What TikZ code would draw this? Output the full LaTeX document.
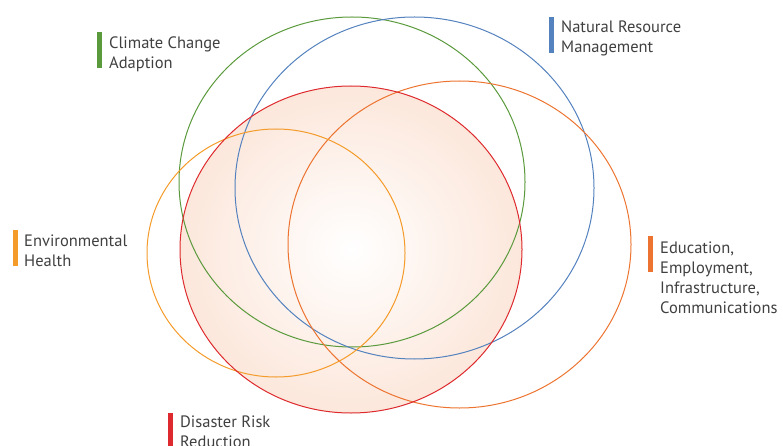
\documentclass[tikz,border=0pt]{standalone}
\usepackage{fontspec}
\setmainfont{PT Sans}
\definecolor{cgreen}{HTML}{5A9A3C}
\definecolor{cblue}{HTML}{5482BE}
\definecolor{cred}{HTML}{DE2A2E}
\definecolor{corange}{HTML}{EC7430}
\definecolor{clight}{HTML}{F49B2A}
\definecolor{peach}{HTML}{FCE7DB}
\definecolor{txt}{HTML}{404040}
\tikzset{
  ring/.style={line width=1pt},
  lbl/.style={anchor=base west, inner sep=0pt, align=left, text=txt,
    font=\fontsize{16.5}{20}\selectfont},
  barbox/.style={inner sep=0pt, minimum width=5pt, minimum height=36pt, anchor=north west}
}
\begin{document}
\begin{tikzpicture}[x=1pt,y=1pt]
\useasboundingbox (0,0) rectangle (783,-446);
\clip (0,0) rectangle (783,-446);
% shaded red circle
\shade[inner color=white, outer color=peach] (351,-249.5) ellipse [x radius=171, y radius=163.5];
% outlines
\draw[ring, cgreen] (352,-182) ellipse [x radius=173, y radius=165];
\draw[ring, cblue] (414.5,-188) ellipse [x radius=179.5, y radius=171];
\draw[ring, corange] (459.5,-244.5) ellipse [x radius=171.5, y radius=163.5];
\draw[ring, clight] (276,-253) ellipse [x radius=129, y radius=124];
\draw[ring, cred] (351,-249.5) ellipse [x radius=171, y radius=163.5];
% labels (anchor = baseline of last line)
\node[barbox, fill=cgreen] (bcc) at (97,-32) {};
\node[lbl] (cc) at (109,-69) {Climate Change\\Adaption};
\node[barbox, fill=cblue] (bnr) at (549,-17) {};
\node[lbl] (nr) at (561,-53) {Natural Resource\\Management};
\node[barbox, fill=clight] (beh) at (13,-230) {};
\node[lbl] (eh) at (24,-266) {Environmental\\Health};
\node[barbox, fill=corange] (bed) at (648,-236) {};
\node[lbl] (ed) at (660,-313) {Education,\\Employment,\\Infrastructure,\\Communications};
\node[barbox, fill=cred] (bdr) at (168,-413) {};
\node[lbl] (dr) at (180,-447) {Disaster Risk\\Reduction};
\end{tikzpicture}
\end{document}
